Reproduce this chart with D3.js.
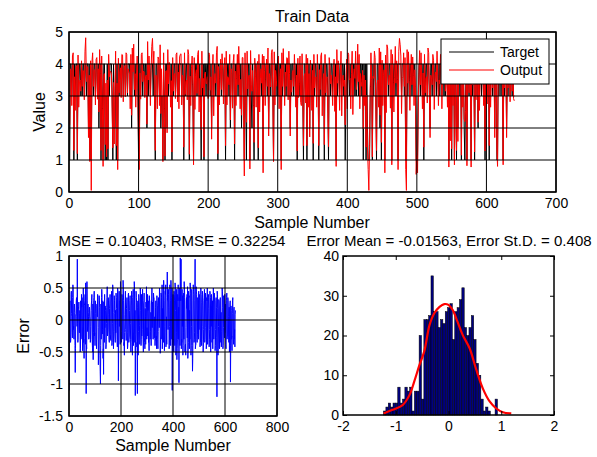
<!DOCTYPE html>
<html>
<head>
<meta charset="utf-8">
<script src="https://d3js.org/d3.v7.min.js"></script>
<style>
  body { margin: 0; background: #fff; }
  svg { font-family: "Liberation Sans", Arial, sans-serif; }
  .tick text { font-size: 14px; fill: #000; }
  .domain { display: none; }
  .tick line { stroke: #000; }
</style>
</head>
<body>
<script>
// target class per sample (1..640)
var target = [
  1,4,4,3,4,4,1,4,3,4,4,1,4,3,4,4,3,4,3,4,
  4,3,4,4,3,4,4,2,4,1,4,1,4,4,3,4,4,3,4,4,
  3,4,2,4,4,1,4,3,1,4,4,1,3,1,4,1,4,3,4,4,
  4,3,1,4,2,2,4,1,4,1,4,3,4,4,3,4,4,3,4,4,
  3,4,4,3,4,4,4,3,4,2,4,4,4,3,4,3,4,4,3,1,
  1,4,3,4,4,3,4,4,3,4,4,2,4,3,4,4,3,4,4,4,
  3,4,3,1,4,4,3,4,4,3,4,2,3,3,1,4,3,1,4,4,
  2,4,3,4,4,3,4,1,4,3,4,4,3,4,4,3,4,3,4,4,
  4,3,4,4,1,4,3,4,4,3,4,4,1,4,3,4,4,3,1,4,
  3,4,4,3,4,4,3,4,3,1,4,3,4,1,4,4,3,4,4,3,
  4,4,3,4,2,4,4,3,4,4,3,4,4,1,4,3,4,4,3,4,
  4,3,4,4,1,4,3,4,4,3,4,2,4,4,3,4,4,1,4,3,
  4,4,3,4,4,3,4,2,4,4,3,1,4,3,1,4,3,4,4,1,
  4,3,2,4,3,1,4,4,3,4,4,1,4,3,4,4,3,4,1,4,
  4,3,4,4,3,4,2,4,4,3,4,4,3,1,4,3,4,4,3,4,
  4,3,4,4,1,4,3,4,4,3,4,3,4,4,3,4,4,2,4,3,
  4,4,3,4,4,3,4,1,4,3,3,4,3,3,4,3,1,4,4,3,
  4,1,4,3,4,2,4,4,3,4,1,4,3,4,4,3,4,4,1,4,
  3,4,4,3,4,4,1,4,3,4,4,3,1,4,4,3,4,4,3,4,
  4,3,4,1,4,3,4,4,3,4,4,3,4,4,3,4,1,3,4,3,
  4,4,3,4,3,4,4,3,4,4,3,4,3,4,4,3,4,3,4,4,
  3,4,1,4,3,4,1,4,2,1,1,1,3,4,4,1,4,3,4,4,
  3,1,4,4,3,4,2,4,1,4,3,4,4,1,4,3,4,4,3,4,
  4,3,4,1,4,4,3,4,4,3,4,4,1,4,4,4,4,3,4,4,
  4,3,4,1,1,4,3,4,4,3,4,4,3,4,4,3,4,3,1,1,
  1,3,4,4,3,4,4,3,4,1,4,3,4,4,3,4,4,3,2,4,
  4,3,4,4,3,4,4,3,4,4,3,4,3,4,4,3,4,4,3,4,
  3,4,4,3,4,1,4,2,4,1,4,3,4,1,4,3,1,4,2,4,
  4,3,4,1,4,3,4,2,1,3,4,1,4,4,3,4,4,1,4,3,
  4,4,1,4,3,4,4,2,4,3,4,4,3,4,4,3,4,1,4,4,
  3,4,4,1,4,3,4,4,3,4,4,2,4,4,1,1,4,3,4,4,
  3,4,4,1,4,3,4,4,2,4,3,4,4,3,4,4,3,4,3,3
];

// error = target - output, per sample
var errors = [
  -1.10,0.15,0.22,0.30,-0.25,-0.35,-0.30,0.40,0.45,0.10,0.05,-0.20,-0.28,0.35,0.55,0.50,-0.15,-0.10,-0.30,0.20,
  0.25,0.12,-0.40,-0.82,-0.45,0.08,0.10,0.30,0.35,0.05,-0.10,0.95,-0.05,-0.35,-0.30,0.20,0.18,0.28,-0.15,-0.20,
  0.10,0.15,-0.50,-0.45,0.30,-0.30,-0.25,0.40,0.20,0.35,0.30,-0.48,-0.40,-0.10,0.50,-0.35,-0.30,-0.60,0.22,0.25,
  0.30,0.40,-0.38,0.58,0.50,-1.15,-0.40,-0.45,0.60,0.30,-0.18,-0.10,0.25,0.12,0.05,-0.30,-0.28,0.18,0.20,0.05,
  0.02,-0.35,-0.30,-0.10,0.15,0.25,0.30,0.40,-0.30,-0.40,-0.50,0.25,-0.62,-0.20,0.30,0.35,0.45,-0.25,-0.20,-0.40,
  0.30,0.28,0.10,-0.30,-0.35,-0.45,0.22,0.25,0.05,0.40,0.35,-0.12,-0.70,-0.50,-0.25,0.38,0.30,0.20,-0.55,-0.80,
  -1.00,-0.40,0.25,-0.30,0.35,0.48,0.40,-0.22,-0.15,0.30,-0.60,-0.45,-0.85,0.28,0.05,-0.35,0.40,-0.12,0.22,0.20,
  0.15,-0.45,-0.38,-0.05,0.20,0.35,0.52,-0.25,-0.20,-0.15,0.35,0.30,0.08,-0.30,-0.35,0.18,0.25,0.40,-0.22,-0.30,
  -0.32,0.28,0.35,0.45,-0.40,-0.35,-0.05,0.55,0.50,0.12,-0.45,-0.30,-0.18,0.38,0.30,0.10,-0.25,-0.35,0.15,-0.20,
  0.42,0.35,0.18,-0.08,-0.30,-0.42,0.50,0.45,0.28,-0.95,-0.40,-0.25,0.45,-0.10,0.30,0.25,-0.38,0.60,0.40,0.08,
  -0.35,-0.30,-0.18,0.40,0.35,0.25,-0.30,0.62,0.50,0.30,-0.40,-0.35,-0.55,-0.20,0.08,0.28,0.45,-0.15,-0.20,-0.32,
  0.18,0.25,0.35,-0.20,-0.45,-0.40,0.28,0.40,0.42,-0.35,-0.30,-0.25,0.15,0.30,0.38,-0.05,-0.30,-0.50,0.22,0.30,
  0.45,-0.30,-0.35,-0.55,0.35,0.40,0.48,-0.40,-0.20,-0.20,0.60,0.50,-0.35,0.15,-1.18,-0.40,-0.22,0.45,0.35,0.28,
  -0.42,-0.35,-1.15,0.20,0.30,-0.55,-0.18,0.40,0.35,0.25,-0.08,-0.38,-0.30,0.50,0.45,0.15,-0.40,-0.30,0.40,-0.25,
  0.20,0.30,0.48,-0.15,-0.30,-0.50,0.25,0.30,0.42,-0.28,-0.35,-0.45,0.18,0.05,-0.38,0.28,0.20,0.52,-0.30,-0.12,
  -0.25,0.40,0.35,0.15,0.30,-0.35,-0.30,-0.48,0.38,0.30,0.25,-0.30,-0.20,-0.18,0.12,-0.40,0.30,0.25,0.50,-0.12,
  0.28,0.20,-0.30,-0.30,0.42,0.35,0.35,-0.28,-0.18,0.05,-0.40,-0.25,0.20,0.30,-0.32,-0.25,-0.45,0.38,0.30,0.22,
  -0.30,-0.45,-0.18,0.35,0.30,0.28,-0.12,0.50,0.45,0.20,-0.52,-0.30,-0.25,0.42,0.40,0.35,-0.30,0.55,-0.45,0.18,
  -0.20,-0.25,-0.35,0.62,0.50,0.30,-0.48,-0.30,-0.10,0.45,0.40,0.55,-0.42,-0.20,0.05,-0.38,0.35,0.75,0.30,0.30,
  -0.15,0.48,0.40,0.20,-0.45,-0.40,-0.10,0.55,0.45,0.30,-0.40,0.62,0.50,0.35,-0.30,0.50,-1.10,-0.40,-0.15,0.40,
  -0.35,-0.30,-0.50,0.45,0.40,0.30,-0.40,0.58,0.50,0.15,-0.55,-0.40,-0.20,0.48,-0.62,-0.45,-0.30,0.40,0.30,0.55,
  -0.30,0.20,-0.98,0.35,0.30,0.50,-0.40,0.97,0.60,0.30,0.95,-0.45,-0.30,-0.35,0.48,-0.10,0.38,-0.55,-0.40,-0.20,
  0.42,-0.30,0.60,0.50,0.35,-0.50,-0.40,-0.38,-0.55,-0.12,0.30,0.35,0.18,0.40,-0.28,0.52,-0.60,-0.50,-0.35,0.45,
  0.35,0.38,-0.45,0.15,-0.30,0.58,0.50,0.42,-0.55,-0.40,-0.10,0.48,0.30,-0.40,-0.80,-0.60,-0.25,0.55,0.45,0.40,
  -0.35,-0.30,-0.20,0.30,0.95,-0.45,-0.40,-0.38,0.52,0.45,0.40,-0.30,-0.35,-0.22,0.35,0.30,0.18,-0.30,0.45,-0.15,
  0.40,0.35,0.30,-0.42,-0.35,-0.35,0.50,0.40,0.28,-0.40,-0.30,-0.10,0.45,0.40,0.22,-0.50,-0.35,-0.15,0.30,0.35,
  0.48,-0.35,-0.30,-0.12,0.42,0.35,0.25,-0.45,-0.40,0.35,0.30,0.50,-0.38,-0.30,-0.08,0.40,0.35,0.18,-0.42,-0.30,
  -0.15,0.45,0.40,0.35,-0.50,0.22,-0.10,0.40,0.30,-0.35,-0.20,0.30,-0.45,0.15,0.50,0.45,-0.30,-0.12,0.42,0.35,
  0.25,-0.48,-0.40,-0.15,0.30,0.35,0.20,-0.28,-1.20,0.45,0.40,0.18,-0.55,-0.45,-0.10,0.32,0.30,0.22,-0.45,-0.35,
  0.30,0.35,-0.25,-0.35,0.12,-0.42,-0.30,-0.18,0.50,0.45,0.20,-0.45,-0.40,-0.12,0.38,0.30,0.15,-0.28,0.40,-0.20,
  0.25,0.20,-0.38,-0.45,0.30,0.35,0.42,-0.30,-0.25,-0.22,0.35,0.30,0.05,-0.28,-0.35,0.20,-0.50,-0.40,0.25,0.30,
  -0.97,-0.40,0.22,0.15,-0.30,-0.25,-0.48,0.10,0.30,0.35,-0.25,-0.30,-0.38,0.18,0.20,-0.30,-0.15,-0.42,0.08,0.15
];

// histogram of errors
var histStart = -1.232;
var histWidth = 0.045;
var histCounts = [1,2,3,2,3,3,7,3,4,7,6,7,1,6,6,20,4,24,24,25,35,26,26,22,
                  24,23,26,27,28,19,26,27,29,32,22,20,22,25,19,13,10,4,1,2,1,0,0,4];

// fitted normal curve
var fitX = [-1.23,-1.06,-0.87,-0.74,-0.65,-0.55,-0.46,-0.36,-0.27,-0.17,-0.08,0.00,0.08,0.17,0.27,0.40,0.52,0.65,0.78,0.90,1.03,1.19];
var fitY = [0.4,1.3,2.5,5.0,8.4,12.6,16.0,22.6,25.6,27.2,27.9,27.7,26.4,23.5,20.1,16.8,11.7,6.7,3.4,1.7,0.7,0.4];

var output = target.map(function(t, i) { return t - errors[i]; });

var svg = d3.select("body").append("svg")
    .attr("width", 597)
    .attr("height", 457);

var font = "\"Liberation Sans\", Arial, sans-serif";

function addText(txt, x, y, size, rot) {
  var t = svg.append("text")
      .attr("text-anchor", "middle")
      .attr("font-size", size)
      .attr("fill", "#000")
      .text(txt);
  if (rot) t.attr("transform", "translate(" + x + "," + y + ") rotate(-90)");
  else t.attr("x", x).attr("y", y);
}

function clip(id, x, y) {
  svg.append("clipPath").attr("id", id).append("rect")
      .attr("x", x.range()[0]).attr("y", y.range()[1])
      .attr("width", x.range()[1] - x.range()[0])
      .attr("height", y.range()[0] - y.range()[1]);
}

function grid(x, y, xt, yt) {
  var g = svg.append("g").attr("stroke", "#000").attr("stroke-width", 1);
  xt.forEach(function(v) {
    g.append("line").attr("x1", x(v)).attr("x2", x(v))
      .attr("y1", y.range()[0]).attr("y2", y.range()[1]);
  });
  yt.forEach(function(v) {
    g.append("line").attr("x1", x.range()[0]).attr("x2", x.range()[1])
      .attr("y1", y(v)).attr("y2", y(v));
  });
}

function box(x, y) {
  svg.append("rect")
      .attr("x", x.range()[0]).attr("y", y.range()[1])
      .attr("width", x.range()[1] - x.range()[0])
      .attr("height", y.range()[0] - y.range()[1])
      .attr("fill", "none").attr("stroke", "#000").attr("stroke-width", 1.5);
}

function axes(x, y, xt, yt, ypad, tick) {
  svg.append("g").attr("transform", "translate(0," + y.range()[0] + ")")
      .call(d3.axisBottom(x).tickValues(xt).tickFormat(String).tickSizeInner(tick ? -tick : 0).tickSizeOuter(0).tickPadding(6))
      .attr("font-family", font);
  svg.append("g").attr("transform", "translate(" + x.range()[0] + ",0)")
      .call(d3.axisLeft(y).tickValues(yt).tickFormat(String).tickSizeInner(tick ? -tick : 0).tickSizeOuter(0).tickPadding(ypad))
      .attr("font-family", font);
  if (tick) {
    svg.append("g").attr("transform", "translate(0," + y.range()[1] + ")")
        .call(d3.axisTop(x).tickValues(xt).tickFormat("").tickSizeInner(-tick).tickSizeOuter(0));
    svg.append("g").attr("transform", "translate(" + x.range()[1] + ",0)")
        .call(d3.axisRight(y).tickValues(yt).tickFormat("").tickSizeInner(-tick).tickSizeOuter(0));
  }
}

// ---------- top: Train Data ----------
var x1 = d3.scaleLinear().domain([0, 700]).range([69, 556]);
var y1 = d3.scaleLinear().domain([0, 5]).range([192, 32]);
var x1t = d3.range(0, 701, 100), y1t = d3.range(0, 6, 1);
clip("c1", x1, y1);

var line1 = d3.line().x(function(d, i) { return x1(i + 1); }).y(function(d) { return y1(d); });
svg.append("path").datum(target).attr("d", line1)
    .attr("fill", "none").attr("stroke", "#000").attr("stroke-width", 1).attr("clip-path", "url(#c1)");
svg.append("path").datum(output).attr("d", line1)
    .attr("fill", "none").attr("stroke", "#f00").attr("stroke-width", 1).attr("clip-path", "url(#c1)");
grid(x1, y1, x1t, y1t);
box(x1, y1);
axes(x1, y1, x1t, y1t, 6, 0);

addText("Train Data", 312, 22, 16);
addText("Sample Number", 312, 228, 16);
addText("Value", 45, 112, 16, true);

// legend
var lg = svg.append("g");
lg.append("rect").attr("x", 441).attr("y", 39).attr("width", 108).attr("height", 45)
    .attr("fill", "#fff").attr("stroke", "#000").attr("stroke-width", 1);
[["Target", "#000", 52], ["Output", "#f00", 70]].forEach(function(d) {
  lg.append("line").attr("x1", 449).attr("x2", 494).attr("y1", d[2]).attr("y2", d[2])
      .attr("stroke", d[1]).attr("stroke-width", 1);
  lg.append("text").attr("x", 500).attr("y", d[2] + 5).attr("font-size", 14).text(d[0]);
});

// ---------- bottom left: errors ----------
var x2 = d3.scaleLinear().domain([0, 800]).range([69, 277]);
var y2 = d3.scaleLinear().domain([-1.5, 1]).range([416, 256]);
var x2t = d3.range(0, 801, 200), y2t = [-1.5, -1, -0.5, 0, 0.5, 1];
clip("c2", x2, y2);
svg.append("path").datum(errors)
    .attr("d", d3.line().x(function(d, i) { return x2(i + 1); }).y(function(d) { return y2(d); }))
    .attr("fill", "none").attr("stroke", "#00f").attr("stroke-width", 1).attr("clip-path", "url(#c2)");
grid(x2, y2, x2t, y2t);
box(x2, y2);
axes(x2, y2, x2t, y2t, 6, 0);

addText("MSE = 0.10403, RMSE = 0.32254", 172, 246, 15);
addText("Sample Number", 173, 451, 16);
addText("Error", 29, 336, 16, true);

// ---------- bottom right: histogram ----------
var x3 = d3.scaleLinear().domain([-2, 2]).range([343, 554]);
var y3 = d3.scaleLinear().domain([0, 40]).range([415, 256]);
var x3t = [-2, -1, 0, 1, 2], y3t = [0, 10, 20, 30, 40];

svg.append("g").selectAll("rect").data(histCounts).join("rect")
    .attr("x", function(d, i) { return x3(histStart + i * histWidth); })
    .attr("width", function(d, i) { return x3(histStart + (i + 1) * histWidth) - x3(histStart + i * histWidth); })
    .attr("y", function(d) { return y3(d); })
    .attr("height", function(d) { return y3(0) - y3(d); })
    .attr("fill", "#000080").attr("stroke", "#000").attr("stroke-width", 0.5);

svg.append("path").datum(fitX)
    .attr("d", d3.line().curve(d3.curveCatmullRom).x(function(d) { return x3(d); }).y(function(d, i) { return y3(fitY[i]); }))
    .attr("fill", "none").attr("stroke", "#f00").attr("stroke-width", 2.2);
box(x3, y3);
axes(x3, y3, x3t, y3t, 4, 4);

addText("Error Mean = -0.01563, Error St.D. = 0.408", 449, 246, 15);
</script>
</body>
</html>
